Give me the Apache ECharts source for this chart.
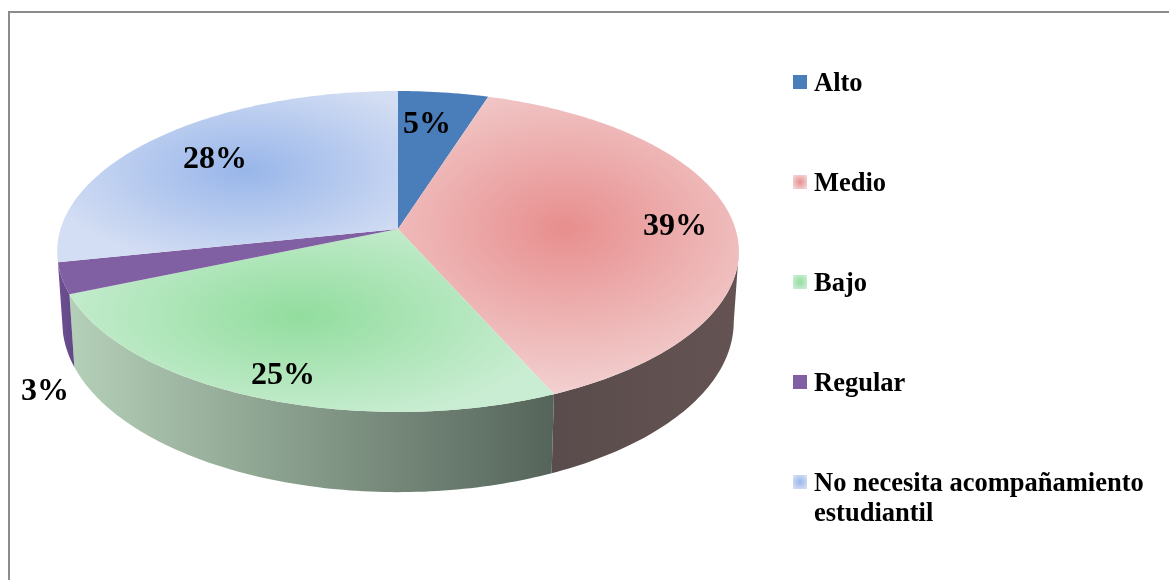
<!DOCTYPE html>
<html>
<head>
<meta charset="utf-8">
<script src="https://cdn.jsdelivr.net/npm/echarts@6/dist/echarts.min.js"></script>
<style>html,body{margin:0;padding:0;background:#fff}#c{width:1169px;height:580px}</style>
</head>
<body>
<div id="c"></div>
<script>
var categories = ['Alto', 'Medio', 'Bajo', 'Regular', 'No necesita acompañamiento\nestudiantil'];
var shares = [4.9, 38.5, 25.2, 3.1, 28.3];

// Look of each slice
var solid = ['#4a7ebb', null, null, '#8060a2', null];
var glowInner = [null, '#e88e8e', '#92dd9e', null, '#98b6ea'];
var glowOuter = [null, '#f3d4d4', '#c9edd2', null, '#d3ddf3'];
var glowCentre = [null, [565, 228], [300, 315], null, [245, 170]];
var glowRadius = [null, [265, 175], [265, 110], null, [205, 95]];
var wallStops = [
  ['#4a7ebb', '#4a7ebb'],
  ['#5a4c4c', '#655353'],
  ['#b4cfb7', '#55645a'],
  ['#6c4f90', '#5f4584'],
  ['#8fa8d0', '#8fa8d0']
];
var wallSpan = [[0, 0], [555, 738], [72, 555], [60, 78], [0, 0]];
var labelAt = [[427, 125], [675, 227], [283, 376], [45, 392], [215, 160]];

// Tilted-disc projection
var cx = 398, cy = 229, Rx = 337.5, Ry = 157.3, k = 0.14, depth = 69, shrink = 0.985;
function project(deg, lower) {
  var a = deg * Math.PI / 180;
  var u = Math.sin(a), v = -Math.cos(a), d = 1 - k * v;
  var x = cx + Rx * u / d, y = cy + Ry * v / d;
  if (lower) { x = cx + (x - cx) * shrink; y += depth / d; }
  return [x, y];
}
function arc(a0, a1, lower) {
  var pts = [], n = Math.max(2, Math.ceil(Math.abs(a1 - a0)));
  for (var i = 0; i <= n; i++) pts.push(project(a0 + (a1 - a0) * i / n, lower));
  return pts;
}
var total = shares.reduce(function (s, v) { return s + v; }, 0);
var frontFrom = 98, frontTo = 262;

function makeRender(idx) {
  return function (params, api) {
    var before = 0;
    for (var i = 0; i < idx; i++) before += shares[i];
    var a0 = before / total * 360;
    var a1 = (before + api.value(0)) / total * 360;
    var children = [];

    var w0 = Math.max(a0, frontFrom), w1 = Math.min(a1, frontTo);
    if (w1 > w0) {
      var wall = arc(w0, w1, false).concat(arc(w1, w0, true));
      children.push({
        type: 'polygon', z2: 1, shape: { points: wall },
        style: {
          fill: {
            type: 'linear', global: true,
            x: wallSpan[idx][0], y: 0, x2: wallSpan[idx][1], y2: 0,
            colorStops: [{ offset: 0, color: wallStops[idx][0] }, { offset: 1, color: wallStops[idx][1] }]
          }
        }
      });
    }

    var rim = [[cx, cy]].concat(arc(a0, a1, false));
    if (solid[idx]) {
      children.push({ type: 'polygon', z2: 5, shape: { points: rim }, style: { fill: solid[idx] } });
    } else {
      var gc = glowCentre[idx], gr = glowRadius[idx], s = gr[1] / gr[0];
      children.push({
        type: 'polygon', z2: 5, x: 0, y: gc[1], scaleX: 1, scaleY: s,
        shape: { points: rim.map(function (p) { return [p[0], (p[1] - gc[1]) / s]; }) },
        style: {
          fill: {
            type: 'radial', global: true, x: gc[0], y: 0, r: gr[0],
            colorStops: [{ offset: 0, color: glowInner[idx] }, { offset: 1, color: glowOuter[idx] }]
          }
        }
      });
    }
    children.push({
      type: 'text', z2: 20, x: labelAt[idx][0], y: labelAt[idx][1],
      style: {
        text: Math.round(api.value(0)) + '%', fill: '#000', align: 'center', verticalAlign: 'middle',
        font: 'bold 32px "Liberation Serif"'
      }
    });
    return { type: 'group', children: children };
  };
}

function legendFill(i) {
  if (solid[i]) return solid[i];
  return {
    type: 'radial', x: 0.5, y: 0.39, r: 0.6,
    colorStops: [{ offset: 0, color: glowInner[i] }, { offset: 1, color: glowOuter[i] }]
  };
}

// Square swatch raised slightly above the middle of its text line
var swatch = 'path://M0,0L14,0L14,14L0,14Z M0,18L0,18';

var chart = echarts.init(document.getElementById('c'), null, { renderer: 'canvas' });
chart.setOption({
  animation: false,
  backgroundColor: '#fff',
  legend: {
    orient: 'vertical', left: 793, top: 39, width: 376, height: 541, padding: 0, itemWidth: 14, itemHeight: 18, itemGap: 10,
    selectedMode: false, icon: swatch,
    data: categories.map(function (c, i) { return { name: c, icon: swatch, itemStyle: { color: legendFill(i) } }; }),
    formatter: function (n) { return n.indexOf('\n') >= 0 ? '\n' + n : '\n' + n + '\n'; },
    textStyle: { fontFamily: 'Liberation Serif', fontWeight: 'bold', fontSize: 26.5, lineHeight: 30, color: '#000', padding: [0, 0, 0, 2] }
  },
  graphic: [{
    type: 'polyline', silent: true,
    shape: { points: [[9, 580], [9, 12], [1169, 12]] },
    style: { stroke: '#8c8c8c', lineWidth: 2, fill: null }
  }],
  series: categories.map(function (c, i) {
    return {
      type: 'custom', name: c, coordinateSystem: 'none', silent: true,
      itemStyle: { color: solid[i] || glowInner[i] },
      data: [[shares[i]]],
      renderItem: makeRender(i)
    };
  })
});
</script>
</body>
</html>
